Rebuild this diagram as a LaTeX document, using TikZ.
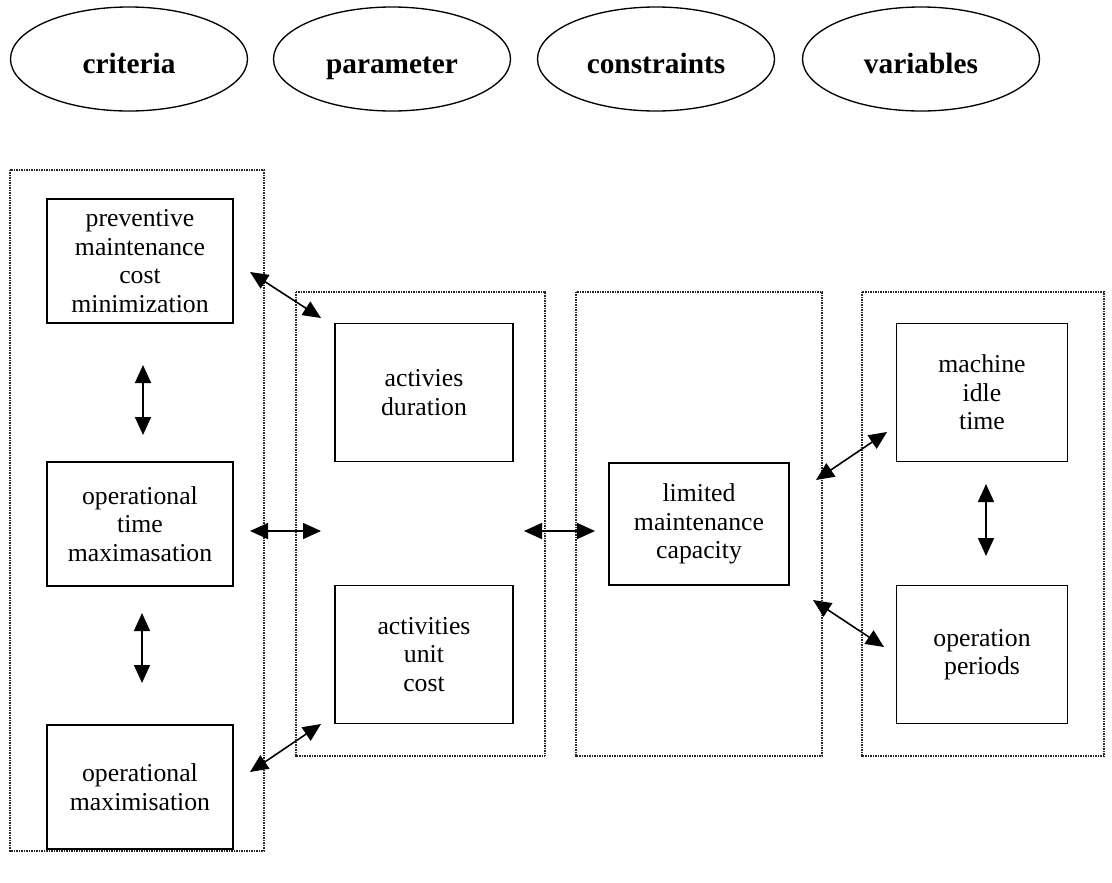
\documentclass[tikz,border=0pt]{standalone}
\usepackage{fontspec}
\setmainfont{Liberation Serif}
\usetikzlibrary{shapes.geometric,arrows.meta}
\begin{document}
\begin{tikzpicture}[x=0.75pt, y=-0.75pt,
  head/.style={ellipse, draw, line width=1pt, minimum width=177.75pt, minimum height=78pt,
    text height=23pt, text depth=1pt,
    font=\fontsize{22}{24}\selectfont\bfseries},
  box/.style={draw, line width=0.8pt, align=center, inner sep=0pt,
    font=\fontsize{19.3}{21.4}\selectfont},
  critbox/.style={box, minimum width=139.5pt, minimum height=93pt},
  parbox/.style={box, minimum width=133.5pt, minimum height=104pt},
  conbox/.style={box, minimum width=135pt, minimum height=91.5pt},
  varbox/.style={box, minimum width=128.25pt, minimum height=104pt},
  frame/.style={draw, line width=1.4pt, black!85, dash pattern=on 0.8pt off 0.45pt},
  link/.style={{Triangle[length=13.5pt,width=12pt]}-{Triangle[length=13.5pt,width=12pt]}, line width=1.2pt}]
	\useasboundingbox (0,0) rectangle (1112,882);

	% headings
	\node[head] (h1) at (129,59) {criteria};
	\node[head] (h2) at (392,59) {parameter};
	\node[head] (h3) at (656,59) {constraints};
	\node[head] (h4) at (921,59) {variables};

	% groups
	\draw[frame] (10,170) rectangle (264,851);
	\draw[frame] (296,292) rectangle (545,756);
	\draw[frame] (576,292) rectangle (822,756);
	\draw[frame] (862,292) rectangle (1104,756);

	% criteria
	\node[critbox] (c1) at (140,261) {preventive\\maintenance\\cost\\minimization};
	\node[critbox] (c2) at (140,524) {operational\\time\\maximasation};
	\node[critbox] (c3) at (140,787) {operational\\maximisation};

	% parameter
	\node[parbox] (p1) at (424,392.5) {activies\\duration};
	\node[parbox] (p2) at (424,654.5) {activities\\unit\\cost};

	% constraints
	\node[conbox] (k1) at (699,524) {limited\\maintenance\\capacity};

	% variables
	\node[varbox] (v1) at (982,392.5) {machine\\idle\\time};
	\node[varbox] (v2) at (982,654.5) {operation\\periods};

	% arrow ends
	\coordinate (a1) at (250,272);  \coordinate (b1) at (321,318);
	\coordinate (a2) at (143,365);  \coordinate (b2) at (143,435);
	\coordinate (a3) at (250,531);  \coordinate (b3) at (321,531);
	\coordinate (a4) at (142,613);  \coordinate (b4) at (142,683);
	\coordinate (a5) at (250,772);  \coordinate (b5) at (321,724);
	\coordinate (a6) at (524,531);  \coordinate (b6) at (595,531);
	\coordinate (a7) at (816,480);  \coordinate (b7) at (887,432);
	\coordinate (a8) at (813,600);  \coordinate (b8) at (884,647);
	\coordinate (a9) at (986,484);  \coordinate (b9) at (986,556);

	\foreach \i in {1,...,9}
		\draw[link] (a\i) -- (b\i);
\end{tikzpicture}
\end{document}
